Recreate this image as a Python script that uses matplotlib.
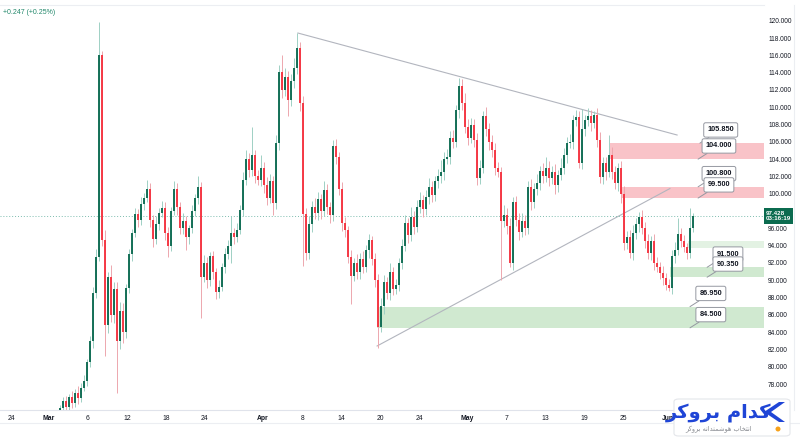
import matplotlib
matplotlib.use("Agg")
import matplotlib.pyplot as plt
from matplotlib.patches import Rectangle, FancyBboxPatch, Polygon, Ellipse
from matplotlib.lines import Line2D
import numpy as np

plt.rcParams["font.family"] = ["Liberation Sans", "DejaVu Sans"]

# ---- data (one candle every ~3 px) ----
first_open = 74.9
closes = [
    75.2, 76.0, 75.4, 76.5, 75.8, 77.0, 76.4, 77.6, 78.4, 80.5,
    83.0, 88.5, 92.7, 116.0, 94.6, 84.8, 90.4, 86.0, 89.0, 83.0,
    86.5, 84.0, 89.1, 93.0, 95.5, 97.7, 97.0, 98.8, 99.5, 100.6,
    97.0, 94.8, 96.5, 97.8, 98.4, 95.5, 94.0, 98.0, 100.6, 98.5,
    96.0, 96.8, 95.0, 96.0, 98.0, 99.5, 100.8, 90.4, 92.0, 90.0,
    92.8, 91.0, 88.6, 89.2, 91.5, 93.0, 94.0, 95.5, 95.0, 95.8,
    98.1, 101.6, 104.0, 102.8, 104.5, 102.0, 101.6, 103.0, 101.0, 99.5,
    101.5, 98.9, 105.9, 114.1, 112.0, 113.5, 110.8, 113.0, 114.5, 116.8,
    110.5, 97.7, 93.1, 96.5, 98.5, 97.8, 99.4, 98.0, 100.4, 98.5,
    97.5, 105.5, 104.2, 100.5, 96.6, 95.8, 92.7, 90.5, 92.0, 91.0,
    92.5, 91.5, 93.5, 94.6, 92.5, 90.0, 84.6, 87.0, 89.8, 88.5,
    91.0, 89.0, 89.5, 92.0, 94.0, 96.6, 95.2, 97.3, 96.2, 98.5,
    99.3, 98.2, 99.6, 100.8, 99.8, 101.5, 102.0, 102.5, 104.0, 104.2,
    106.5, 106.0, 109.7, 112.5, 110.5, 107.7, 106.5, 108.0, 106.2, 101.8,
    103.0, 109.0, 107.5, 106.0, 105.0, 103.0, 102.5, 96.8, 97.5, 96.3,
    92.0, 99.0, 97.0, 95.6, 96.8, 96.0, 100.8, 99.0, 100.5, 101.2,
    102.6, 102.0, 103.0, 101.8, 102.5, 101.0, 102.2, 103.0, 104.5, 105.9,
    106.0, 108.5, 108.9, 103.5, 107.5, 108.5, 109.0, 108.2, 109.1, 106.2,
    101.9, 103.5, 102.5, 104.5, 102.5, 101.2, 103.0, 100.0, 94.3, 95.0,
    93.1, 95.5, 96.5, 97.3, 96.0, 94.5, 93.2, 94.5, 92.0, 91.5,
    90.8, 90.3, 89.5, 89.1, 92.8, 93.5, 95.4, 94.5, 93.8, 93.2,
    96.0, 97.428,
]
wick_up = [
    0.4, 0.5, 0.6, 0.3, 0.7, 0.4, 0.8, 0.5, 0.6, 0.4,
    0.5, 0.7, 0.9, 3.8, 0.5, 1.2, 0.6, 1.4, 0.8, 0.8,
    1.0, 0.9, 0.5, 0.6, 0.4, 0.7, 0.5, 0.8, 0.6, 1.0,
    0.7, 0.5, 0.9, 0.6, 0.8, 0.6, 0.7, 0.5, 0.9, 0.6,
    0.5, 1.0, 0.6, 0.4, 0.7, 0.5, 1.2, 0.6, 0.9, 0.7,
    0.5, 0.6, 0.4, 0.8, 0.5, 0.7, 0.6, 1.9, 0.5, 0.8,
    0.6, 0.9, 1.0, 0.7, 3.2, 0.6, 0.8, 1.5, 0.7, 0.9,
    0.8, 0.6, 0.9, 0.8, 1.9, 1.0, 0.7, 0.9, 1.2, 1.8,
    0.7, 0.8, 0.6, 0.9, 0.7, 1.0, 0.8, 0.6, 1.1, 0.7,
    0.5, 0.7, 0.8, 0.6, 0.9, 0.7, 0.5, 0.8, 0.6, 1.0,
    0.7, 0.9, 0.6, 0.8, 0.5, 0.6, 0.7, 0.9, 0.8, 0.6,
    1.0, 0.5, 0.7, 0.6, 0.8, 0.9, 0.6, 1.2, 0.7, 0.8,
    0.9, 0.6, 0.8, 1.0, 0.7, 0.6, 0.9, 1.4, 0.8, 1.0,
    0.7, 0.9, 0.6, 0.9, 0.8, 1.2, 0.9, 0.7, 0.6, 0.8,
    0.9, 0.6, 1.0, 0.7, 0.8, 0.9, 0.7, 0.6, 1.2, 0.8,
    0.9, 0.6, 0.7, 0.8, 1.0, 0.7, 0.7, 0.9, 0.8, 1.1,
    0.6, 0.9, 1.2, 0.8, 0.7, 0.9, 0.6, 1.1, 0.8, 0.7,
    0.9, 0.6, 0.8, 0.7, 2.3, 0.6, 0.9, 0.7, 0.5, 0.8,
    0.9, 0.7, 0.8, 2.3, 0.9, 0.7, 0.6, 0.8, 0.9, 0.7,
    0.8, 0.9, 0.7, 0.6, 0.8, 0.7, 0.9, 0.6, 0.8, 0.7,
    0.6, 0.8, 0.5, 0.6, 0.7, 0.9, 1.8, 0.6, 0.7, 0.5,
    2.3, 0.4,
]
wick_dn = [
    0.5, 0.4, 0.7, 0.5, 0.6, 0.4, 0.7, 0.5, 0.4, 0.6,
    0.5, 0.8, 0.6, 0.5, 0.6, 3.5, 0.9, 0.8, 1.0, 6.0,
    0.9, 1.2, 0.7, 0.6, 0.8, 0.5, 0.9, 0.6, 0.7, 0.5,
    0.8, 0.9, 0.6, 0.7, 0.5, 0.8, 1.3, 0.6, 0.5, 0.9,
    0.7, 0.6, 1.5, 0.8, 0.5, 0.6, 0.7, 4.8, 0.6, 0.9,
    0.7, 0.8, 0.8, 0.6, 0.5, 0.7, 0.6, 2.0, 0.8, 0.6,
    0.5, 0.7, 0.6, 0.9, 0.7, 0.8, 0.6, 0.7, 0.9, 0.8,
    0.6, 1.4, 0.7, 0.8, 0.9, 0.7, 1.8, 0.6, 0.8, 0.7,
    0.9, 6.0, 0.8, 0.6, 0.9, 0.7, 0.8, 0.9, 0.6, 0.8,
    0.9, 0.6, 0.8, 0.7, 0.9, 0.8, 0.7, 3.2, 0.6, 0.9,
    0.8, 0.7, 0.6, 0.9, 0.7, 0.8, 2.4, 0.6, 0.9, 0.7,
    0.8, 0.7, 0.6, 0.8, 0.7, 0.6, 0.9, 0.7, 0.8, 0.6,
    0.7, 0.9, 0.6, 0.8, 0.7, 0.6, 0.8, 0.7, 0.9, 0.6,
    0.8, 0.7, 0.6, 0.9, 0.8, 0.7, 0.9, 0.6, 0.8, 0.8,
    0.7, 0.6, 0.8, 0.9, 0.7, 0.8, 0.6, 6.8, 0.7, 0.9,
    0.5, 0.8, 0.7, 0.9, 0.6, 0.8, 0.7, 0.9, 0.6, 0.7,
    0.8, 0.7, 0.6, 0.9, 0.7, 1.0, 0.8, 0.6, 0.7, 0.9,
    0.6, 0.8, 0.7, 0.5, 0.6, 0.8, 0.7, 0.9, 0.6, 0.8,
    0.7, 0.8, 0.9, 0.6, 0.8, 0.7, 0.9, 1.1, 0.8, 0.7,
    0.5, 0.8, 0.7, 0.9, 0.6, 0.8, 0.7, 0.9, 0.8, 0.6,
    0.7, 0.8, 0.6, 0.3, 0.7, 0.8, 0.6, 0.7, 0.5, 0.8,
    0.6, 0.4,
]
last_price = 97.428
countdown = "03:16:19"
change_text = "+0.247 (+0.25%)"

xtick_labels = ["24", "Mar", "6", "12", "18", "24", "Apr", "8", "14", "20",
                "24", "May", "7", "13", "19", "25", "Jun"]
xtick_pos = [-16.3, -3.7, 9.3, 22.3, 35.3, 48.3, 67.7, 80.7, 93.7, 106.7,
             119.7, 135.7, 148.7, 161.7, 174.7, 187.7, 202.7]
ytick_vals = list(range(78, 121, 2))

# supply / demand zones
zone_low = [104.0, 99.5, 93.7, 90.35, 84.5]
zone_high = [105.85, 100.8, 94.5, 91.5, 86.95]
zone_start = [183.3, 187.3, 209.3, 203.3, 105.7]
zone_color = ["#f9c3c8", "#f9c3c8", "#e3f2e3", "#d0e9d0", "#d0e9d0"]

# labelled levels
level_values = [105.85, 104.0, 100.8, 99.5, 91.5, 90.35, 86.95, 84.5]
level_anchor = [213.3, 212.7, 212.7, 212.7, 215.7, 215.7, 210.0, 210.0]

# triangle trend lines
upper_line_x, upper_line_y = [79.3, 205.7], [118.58, 106.79]
lower_line_x, lower_line_y = [105.7, 203.3], [82.4, 100.6]

W, H = 800, 438
fig = plt.figure(figsize=(W / 100, H / 100), dpi=100)
ax = fig.add_axes([0, 28 / H, 764 / W, 405 / H])
xmin, xmax = -20, 234.67
ax.set_xlim(xmin, xmax)
ax.set_ylim(75.0, 121.82)

# candles
x = np.arange(len(closes))
c = np.array(closes)
o = np.array([first_open] + closes[:-1])
hi = np.maximum(o, c) + np.array(wick_up)
lo = np.minimum(o, c) - np.array(wick_dn)
up = c >= o
ax.vlines(x[up], lo[up], hi[up], color="#9fd0c4", lw=0.7, zorder=3)
ax.vlines(x[~up], lo[~up], hi[~up], color="#eda7ae", lw=0.7, zorder=3)
ax.vlines(x[up], o[up], c[up], color="#0c6a51", lw=1.35, zorder=4)
ax.vlines(x[~up], c[~up], o[~up], color="#f5323f", lw=1.35, zorder=4)

# zones
for lo_v, hi_v, st, col in zip(zone_low, zone_high, zone_start, zone_color):
    ax.add_patch(Rectangle((st, lo_v), xmax - st + 2, hi_v - lo_v, fc=col,
                           ec="none", zorder=1))

# triangle
ax.plot(upper_line_x, upper_line_y, color="#b2b5be", lw=0.8, zorder=2)
ax.plot(lower_line_x, lower_line_y, color="#b2b5be", lw=0.8, zorder=2)

# last price line
ax.axhline(last_price, color="#7cbcae", lw=0.7, ls=(0, (1, 2)), zorder=2)

# level callouts
for v, xa in zip(level_values, level_anchor):
    ax.annotate(f"{v:.3f}", xy=(xa, v), xytext=(15, 9.5), textcoords="offset points",
                ha="center", va="center", fontsize=5.3, fontweight="bold", color="#131722",
                bbox=dict(boxstyle="round,pad=0.5,rounding_size=0.25", fc="white",
                          ec="#9598a1", lw=0.7),
                arrowprops=dict(arrowstyle="-", color="#9598a1", lw=0.7,
                                shrinkA=0, shrinkB=0), zorder=6)

# axes styling
for side in ["left", "right"]:
    ax.spines[side].set_visible(False)
ax.spines["bottom"].set_color("#e0e3eb")
ax.spines["top"].set_color("#eceef2")
ax.yaxis.tick_right()
ax.set_yticks(ytick_vals)
ax.set_yticklabels([f"{v:.3f}" for v in ytick_vals])
ax.tick_params(axis="y", length=0, pad=3, labelsize=4.7, labelcolor="#131722")
ax.set_xticks(xtick_pos)
ax.set_xticklabels(xtick_labels)
ax.tick_params(axis="x", length=0, pad=3.5, labelsize=4.9, labelcolor="#131722")
for lab in ax.get_xticklabels():
    if lab.get_text() in ("Mar", "Apr", "May", "Jun"):
        lab.set_fontweight("bold")

# current price tag
ax.text(1.0 + 2 / 764, last_price, f"{last_price:.3f}\n{countdown}",
        transform=ax.get_yaxis_transform(), ha="left", va="center", fontsize=4.5,
        color="white", fontweight="bold", linespacing=1.2,
        bbox=dict(boxstyle="square,pad=0.35", fc="#0b6b4f", ec="none"),
        clip_on=False, zorder=10)

# frame lines
fig.add_artist(Line2D([0, 1], [1 - 423 / H] * 2, color="#eceef2", lw=0.8))
fig.add_artist(Line2D([794 / W] * 2, [28 / H, 1 - 5 / H], color="#eceef2", lw=0.8))

fig.text(3 / W, 1 - 12 / H, change_text, fontsize=5, color="#22886b", va="center")

# brand logo (bottom right)
fig.add_artist(FancyBboxPatch((674 / W, 1 - 436 / H), 116 / W, 37 / H,
                              boxstyle="round,pad=0,rounding_size=0.006",
                              transform=fig.transFigure, fc="white", ec="#e4e6ea",
                              lw=0.8, zorder=20))
chev = [(779, 402), (764, 412), (779, 422), (785, 422), (771, 412), (785, 402)]
fig.add_artist(Polygon([(px / W, 1 - py / H) for px, py in chev], closed=True,
                       transform=fig.transFigure, fc="#1f45d6", ec="none", zorder=21))
fig.add_artist(Ellipse((778 / W, 1 - 429 / H), 5 / W, 5 / H, transform=fig.transFigure,
                       fc="#f7a21b", ec="none", zorder=21))
fig.text(719 / W, 1 - 412 / H, "\ufeae\ufb90\ufeed\ufeae\ufe91 \ufee1\ufe8d\ufeaa\ufb90",
         fontsize=14, fontweight="bold", color="#1f45d6", ha="center", va="center",
         family="DejaVu Sans", zorder=22)
fig.text(719 / W, 1 - 429 / H,
         "\ufeae\ufb90\ufeed\ufeae\ufe91 \ufeea\ufee7\ufe8d\ufeaa\ufee8\ufee4\ufeb7\ufeee\ufeeb "
         "\ufe8f\ufe8e\ufea8\ufe98\ufee7\ufe8d",
         fontsize=4.8, color="#8a8d93", ha="center", va="center",
         family="DejaVu Sans", zorder=22)

fig.savefig("out.png", dpi=100)
